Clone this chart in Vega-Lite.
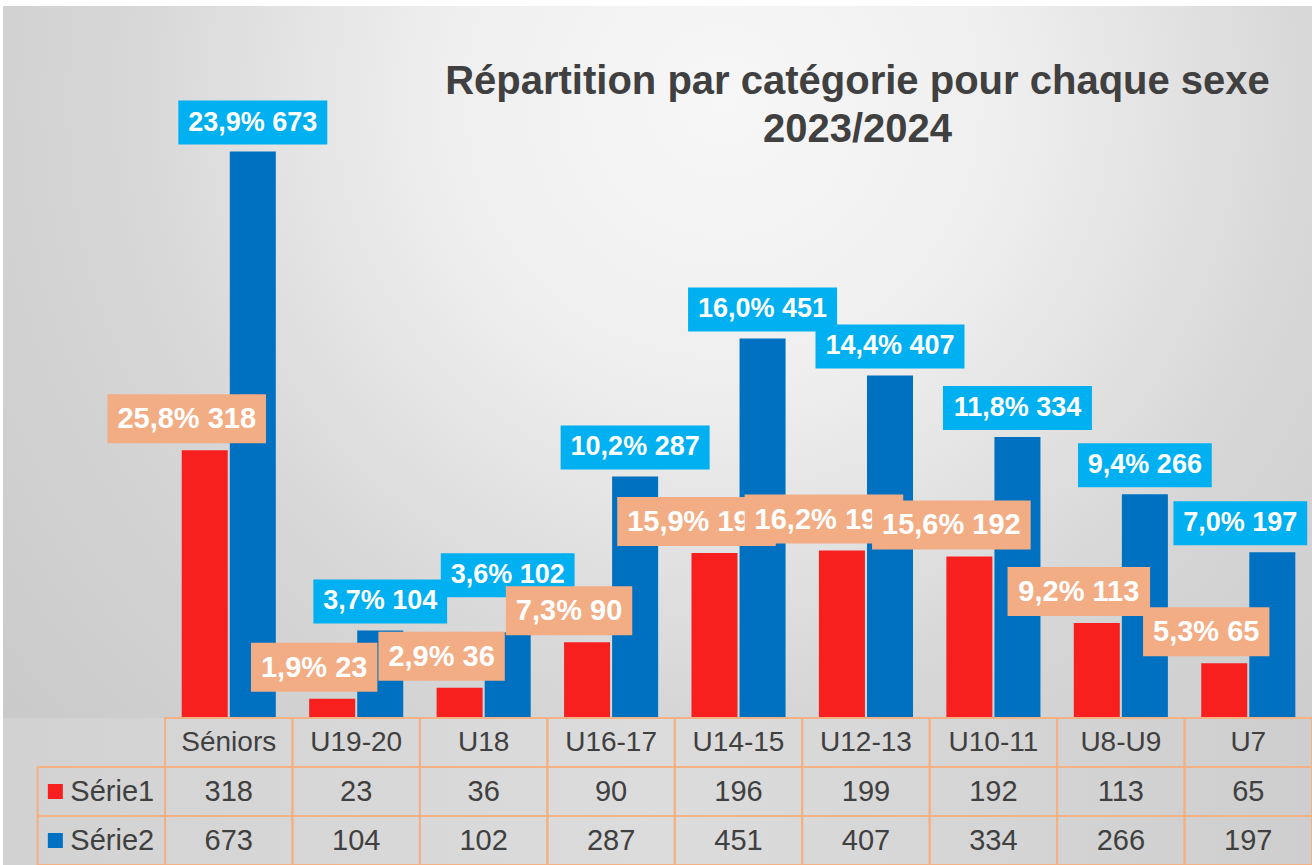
{
  "$schema": "https://vega.github.io/schema/vega-lite/v6.json",
  "padding": {"left": 3, "top": 6, "right": 0, "bottom": 0},
  "background": "#ffffff",
  "spacing": 0,
  "bounds": "flush",
  "config": {"view": {"stroke": null}, "font": "Liberation Sans"},
  "datasets": {
    "d": [
      {"cat": "Séniors", "serie": "Série1", "value": 318},
      {"cat": "U19-20", "serie": "Série1", "value": 23},
      {"cat": "U18", "serie": "Série1", "value": 36},
      {"cat": "U16-17", "serie": "Série1", "value": 90},
      {"cat": "U14-15", "serie": "Série1", "value": 196},
      {"cat": "U12-13", "serie": "Série1", "value": 199},
      {"cat": "U10-11", "serie": "Série1", "value": 192},
      {"cat": "U8-U9", "serie": "Série1", "value": 113},
      {"cat": "U7", "serie": "Série1", "value": 65},
      {"cat": "Séniors", "serie": "Série2", "value": 673},
      {"cat": "U19-20", "serie": "Série2", "value": 104},
      {"cat": "U18", "serie": "Série2", "value": 102},
      {"cat": "U16-17", "serie": "Série2", "value": 287},
      {"cat": "U14-15", "serie": "Série2", "value": 451},
      {"cat": "U12-13", "serie": "Série2", "value": 407},
      {"cat": "U10-11", "serie": "Série2", "value": 334},
      {"cat": "U8-U9", "serie": "Série2", "value": 266},
      {"cat": "U7", "serie": "Série2", "value": 197}
    ]
  },
  "vconcat": [
    {
      "width": 1309,
      "height": 712,
      "view": {
        "stroke": null,
        "fill": {
          "gradient": "radial",
          "x1": 0.55, "y1": 0.3, "r1": 0,
          "x2": 0.55, "y2": 0.3, "r2": 0.85,
          "stops": [
            {"offset": 0, "color": "#f7f7f7"},
            {"offset": 0.25, "color": "#efefef"},
            {"offset": 0.55, "color": "#d6d6d6"},
            {"offset": 1, "color": "#c4c4c4"}
          ]
        }
      },
      "title": {
        "text": ["Répartition par catégorie pour chaque sexe", "2023/2024"],
        "anchor": "middle",
        "frame": "group",
        "dx": 200,
        "offset": -144,
        "baseline": "top",
        "fontSize": 40,
        "lineHeight": 48,
        "font": "Liberation Sans",
        "fontWeight": "bold",
        "color": "#404040"
      },
      "data": {"name": "d"},
      "transform": [
        {"joinaggregate": [{"op": "sum", "field": "value", "as": "total"}], "groupby": ["serie"]},
        {"calculate": "replace(format(datum.value / datum.total, '.1%'), '.', ',') + ' ' + datum.value", "as": "label"},
        {"calculate": "datum.serie === 'Série1' ? (length(datum.label) - 3) * 16.1 + 62 : (length(datum.label) - 3) * 15.23 + 57.6", "as": "boxw"},
        {"calculate": "datum.serie === 'Série1' ? 49 : 44", "as": "boxh"},
        {"calculate": "datum.serie === 'Série1' ? -18 : (datum.cat === 'U7' ? -32 : 0)", "as": "boxdx"},
        {"calculate": "-1 + 2 * datum.boxdx / datum.boxw", "as": "px1"},
        {"calculate": "1 + 2 * datum.boxdx / datum.boxw", "as": "px2"},
        {"calculate": "'M' + datum.px1 + ',-' + (datum.boxh / datum.boxw) + 'H' + datum.px2 + 'V' + (datum.boxh / datum.boxw) + 'H' + datum.px1 + 'Z'", "as": "boxpath"},
        {"calculate": "datum.boxw * datum.boxw", "as": "boxsize"}
      ],
      "encoding": {
        "x": {
          "field": "cat", "type": "nominal", "sort": null,
          "scale": {"domain": ["_", "Séniors", "U19-20", "U18", "U16-17", "U14-15", "U12-13", "U10-11", "U8-U9", "U7"], "paddingInner": 0, "paddingOuter": 0.1358, "align": 1},
          "axis": null
        },
        "xOffset": {
          "field": "serie", "type": "nominal",
          "scale": {"domain": ["Série1", "Série2"], "paddingInner": 0.043, "paddingOuter": 0.347}
        },
        "y": {
          "field": "value", "type": "quantitative",
          "scale": {"domain": [0, 846], "nice": false, "zero": true},
          "axis": null
        }
      },
      "layer": [
        {
          "mark": {"type": "bar"},
          "encoding": {
            "color": {
              "field": "serie", "type": "nominal",
              "scale": {"domain": ["Série1", "Série2"], "range": ["#F81F1F", "#0070C0"]},
              "legend": null
            }
          }
        },
        {
          "transform": [{"filter": "datum.serie === 'Série2'"}],
          "mark": {
            "type": "point", "filled": true, "opacity": 1, "color": "#00B0F0", "strokeWidth": 0,
            "yOffset": {"expr": "datum.cat === 'U18' ? -57 : -29"}
          },
          "encoding": {
            "shape": {"field": "boxpath", "type": "nominal", "scale": null},
            "size": {"field": "boxsize", "type": "quantitative", "scale": null}
          }
        },
        {
          "transform": [{"filter": "datum.serie === 'Série2'"}],
          "mark": {
            "type": "text", "color": "#ffffff", "fontSize": 27, "fontWeight": "bold",
            "baseline": "middle", "align": "center",
            "dy": {"expr": "datum.cat === 'U18' ? -57 : -29"},
            "dx": {"expr": "datum.cat === 'U7' ? -32 : 0"}
          },
          "encoding": {"text": {"field": "label"}}
        },
        {
          "transform": [{"filter": "datum.serie === 'Série1' && datum.cat !== 'U12-13' && datum.cat !== 'U10-11'"}],
          "mark": {"type": "point", "filled": true, "opacity": 1, "color": "#F2AD85", "strokeWidth": 0, "yOffset": -31.5},
          "encoding": {
            "shape": {"field": "boxpath", "type": "nominal", "scale": null},
            "size": {"field": "boxsize", "type": "quantitative", "scale": null}
          }
        },
        {
          "transform": [{"filter": "datum.serie === 'Série1' && datum.cat !== 'U12-13' && datum.cat !== 'U10-11'"}],
          "mark": {"type": "text", "color": "#ffffff", "fontSize": 29, "fontWeight": "bold", "baseline": "middle", "align": "center", "dy": -31, "dx": -18},
          "encoding": {"text": {"field": "label"}}
        },
        {
          "transform": [{"filter": "datum.serie === 'Série1' && datum.cat === 'U12-13'"}],
          "mark": {"type": "point", "filled": true, "opacity": 1, "color": "#F2AD85", "strokeWidth": 0, "yOffset": -31.5},
          "encoding": {
            "shape": {"field": "boxpath", "type": "nominal", "scale": null},
            "size": {"field": "boxsize", "type": "quantitative", "scale": null}
          }
        },
        {
          "transform": [{"filter": "datum.serie === 'Série1' && datum.cat === 'U12-13'"}],
          "mark": {"type": "text", "color": "#ffffff", "fontSize": 29, "fontWeight": "bold", "baseline": "middle", "align": "center", "dy": -31, "dx": -18},
          "encoding": {"text": {"field": "label"}}
        },
        {
          "transform": [{"filter": "datum.serie === 'Série1' && datum.cat === 'U10-11'"}],
          "mark": {"type": "point", "filled": true, "opacity": 1, "color": "#F2AD85", "strokeWidth": 0, "yOffset": -31.5},
          "encoding": {
            "shape": {"field": "boxpath", "type": "nominal", "scale": null},
            "size": {"field": "boxsize", "type": "quantitative", "scale": null}
          }
        },
        {
          "transform": [{"filter": "datum.serie === 'Série1' && datum.cat === 'U10-11'"}],
          "mark": {"type": "text", "color": "#ffffff", "fontSize": 29, "fontWeight": "bold", "baseline": "middle", "align": "center", "dy": -31, "dx": -18},
          "encoding": {"text": {"field": "label"}}
        }
      ]
    },
    {
      "width": 1309,
      "height": 147,
      "view": {
        "stroke": null,
        "fill": {
          "gradient": "linear", "x1": 0, "y1": 0, "x2": 1, "y2": 0,
          "stops": [
            {"offset": 0, "color": "#d2d2d2"},
            {"offset": 0.5, "color": "#dcdcdc"},
            {"offset": 1, "color": "#cecece"}
          ]
        }
      },
      "data": {"name": "d"},
      "layer": [
        {
          "mark": {"type": "rect", "fill": "transparent", "stroke": "#F4B183", "strokeWidth": 2},
          "encoding": {
            "x": {
              "field": "cat", "type": "nominal", "sort": null,
              "scale": {"domain": ["_", "Séniors", "U19-20", "U18", "U16-17", "U14-15", "U12-13", "U10-11", "U8-U9", "U7"], "paddingInner": 0, "paddingOuter": 0.1358, "align": 1},
              "axis": null
            },
            "y": {
              "field": "serie", "type": "nominal",
              "scale": {"domain": ["hdr", "Série1", "Série2"], "paddingInner": 0, "paddingOuter": 0},
              "axis": null
            }
          }
        },
        {
          "mark": {"type": "text", "fontSize": 29, "color": "#404040", "baseline": "middle", "align": "center"},
          "encoding": {
            "x": {"field": "cat", "type": "nominal", "sort": null},
            "y": {"field": "serie", "type": "nominal"},
            "text": {"field": "value", "type": "quantitative"}
          }
        },
        {
          "transform": [{"filter": "datum.serie === 'Série1'"}],
          "mark": {"type": "rect", "fill": "transparent", "stroke": "#F4B183", "strokeWidth": 2},
          "encoding": {
            "x": {"field": "cat", "type": "nominal", "sort": null},
            "y": {"datum": "hdr", "type": "nominal"}
          }
        },
        {
          "transform": [{"filter": "datum.serie === 'Série1'"}],
          "mark": {"type": "text", "fontSize": 28, "color": "#404040", "baseline": "middle", "align": "center"},
          "encoding": {
            "x": {"field": "cat", "type": "nominal", "sort": null},
            "y": {"datum": "hdr", "type": "nominal"},
            "text": {"field": "cat"}
          }
        },
        {
          "transform": [{"filter": "datum.cat === 'Séniors'"}],
          "mark": {"type": "rect", "fill": "transparent", "stroke": "#F4B183", "strokeWidth": 2},
          "encoding": {
            "x": {"datum": "_", "type": "nominal"},
            "y": {"field": "serie", "type": "nominal"}
          }
        },
        {
          "transform": [{"filter": "datum.cat === 'Séniors'"}],
          "mark": {"type": "text", "fontSize": 29, "color": "#404040", "baseline": "middle", "align": "left", "dx": -31},
          "encoding": {
            "x": {"datum": "_", "type": "nominal"},
            "y": {"field": "serie", "type": "nominal"},
            "text": {"field": "serie"}
          }
        },
        {
          "transform": [{"filter": "datum.cat === 'Séniors'"}],
          "mark": {"type": "point", "shape": "square", "filled": true, "size": 225, "opacity": 1, "xOffset": -46},
          "encoding": {
            "x": {"datum": "_", "type": "nominal"},
            "y": {"field": "serie", "type": "nominal"},
            "color": {
              "field": "serie", "type": "nominal",
              "scale": {"domain": ["Série1", "Série2"], "range": ["#F81F1F", "#0070C0"]},
              "legend": null
            }
          }
        }
      ]
    }
  ]
}
